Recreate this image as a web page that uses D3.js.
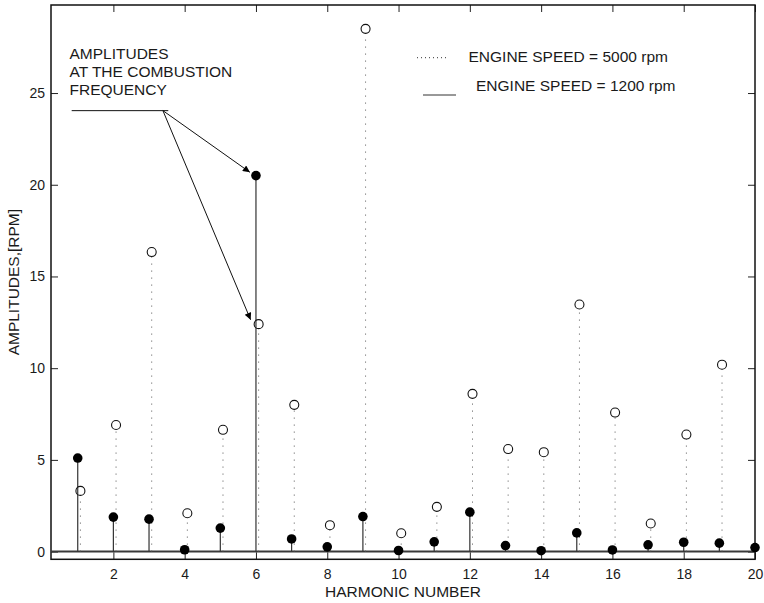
<!DOCTYPE html>
<html>
<head>
<meta charset="utf-8">
<script src="https://cdn.jsdelivr.net/npm/d3@7"></script>
<style>
  html, body { margin: 0; padding: 0; background: #fff; }
  svg { display: block; font-family: "Liberation Sans", Arial, sans-serif; }
</style>
</head>
<body>
<svg id="chart" width="764" height="603"></svg>
<script>
// ---- data ----
const harmonics = [1,2,3,4,5,6,7,8,9,10,11,12,13,14,15,16,17,18,19,20];
const speed1200 = [5.1,1.88,1.77,0.1,1.28,20.5,0.69,0.26,1.91,0.06,0.53,2.15,0.33,0.05,1.02,0.09,0.37,0.51,0.46,0.22];
const harmonics5000 = [1,2,3,4,5,6,7,8,9,10,11,12,13,14,15,16,17,18,19];
const speed5000 = [3.31,6.9,16.33,2.09,6.64,12.4,8.0,1.44,28.5,1.0,2.44,8.6,5.59,5.42,13.47,7.58,1.53,6.38,10.19];
const xTicks = [2,4,6,8,10,12,14,16,18,20];
const yTicks = [0,5,10,15,20,25];
const legendLabels = ["ENGINE SPEED = 5000 rpm", "ENGINE SPEED = 1200 rpm"];
const annotationLines = ["AMPLITUDES", "AT THE COMBUSTION", "FREQUENCY"];
const annotationBar = [[0.83, 24.04], [3.54, 24.04]];
const annotationApex = [3.39, 24.04];
const annotationTargets = [[5.83, 20.68], [5.85, 12.64]];
const xLabel = "HARMONIC NUMBER";
const yLabel = "AMPLITUDES,[RPM]";

// ---- layout ----
const L = 51, R = 755, T = 5, B = 559.3;
const svg = d3.select("#chart");
const x = d3.scaleLinear().domain([0.25, 20]).range([L, R]);
const y = d3.scaleLinear().domain([-0.42, 29.8]).range([B, T]);
const off5000 = 0.075;
const textColor = "#1a1a1a";

svg.append("defs").append("marker")
  .attr("id", "arrow").attr("viewBox", "0 0 10 10")
  .attr("refX", 10).attr("refY", 5)
  .attr("markerWidth", 10).attr("markerHeight", 7)
  .attr("markerUnits", "userSpaceOnUse")
  .attr("orient", "auto")
  .append("path").attr("d", "M0,0 L10,5 L0,10 Z").attr("fill", "#000");

// axes (inward ticks, mirrored)
const tickLen = 7;
const bottomAxis = d3.axisBottom(x).tickValues(xTicks).tickSizeInner(-tickLen).tickSizeOuter(0).tickPadding(10).tickFormat(d3.format("d"));
const topAxis = d3.axisTop(x).tickValues(xTicks).tickSizeInner(-tickLen).tickSizeOuter(0).tickFormat("");
const leftAxis = d3.axisLeft(y).tickValues(yTicks).tickSizeInner(-tickLen).tickSizeOuter(0).tickPadding(6).tickFormat(d3.format("d"));
const rightAxis = d3.axisRight(y).tickValues(yTicks).tickSizeInner(-tickLen).tickSizeOuter(0).tickFormat("");

function styleAxis(g) {
  g.select(".domain").remove();
  g.selectAll(".tick line").attr("stroke", "#222").attr("stroke-width", 1);
  g.selectAll(".tick text").attr("fill", textColor).style("font-size", "14px")
    .style("font-family", "'Liberation Sans', Arial, sans-serif");
}
svg.append("g").attr("transform", `translate(0,${B})`).call(bottomAxis).call(styleAxis);
svg.append("g").attr("transform", `translate(0,${T})`).call(topAxis).call(styleAxis);
svg.append("g").attr("transform", `translate(${L},0)`).call(leftAxis).call(styleAxis);
svg.append("g").attr("transform", `translate(${R},0)`).call(rightAxis).call(styleAxis);

// plot box
svg.append("rect").attr("x", L).attr("y", T).attr("width", R - L).attr("height", B - T)
  .attr("fill", "none").attr("stroke", "#111").attr("stroke-width", 1.5);

// zero baseline
svg.append("line").attr("x1", L).attr("x2", R).attr("y1", y(0)).attr("y2", y(0))
  .attr("stroke", "#3a3a3a").attr("stroke-width", 2);

// 5000 rpm dotted stems + open circles
const d5000 = harmonics5000.map((h, i) => ({h, v: speed5000[i]}));
svg.append("g").selectAll("line").data(d5000).join("line")
  .attr("x1", d => x(d.h + off5000)).attr("x2", d => x(d.h + off5000))
  .attr("y1", y(0)).attr("y2", d => y(d.v) + 4.5)
  .attr("stroke", "#555").attr("stroke-width", 1).attr("stroke-dasharray", "1,6");

// 1200 rpm solid stems
const d1200 = harmonics.map((h, i) => ({h, v: speed1200[i]}));
svg.append("g").selectAll("line").data(d1200).join("line")
  .attr("x1", d => x(d.h)).attr("x2", d => x(d.h))
  .attr("y1", y(0)).attr("y2", d => y(d.v))
  .attr("stroke", "#333").attr("stroke-width", 1.2);

svg.append("g").selectAll("circle").data(d5000).join("circle")
  .attr("cx", d => x(d.h + off5000)).attr("cy", d => y(d.v)).attr("r", 4.5)
  .attr("fill", "none").attr("stroke", "#111").attr("stroke-width", 1.1);

svg.append("g").selectAll("circle").data(d1200).join("circle")
  .attr("cx", d => x(d.h)).attr("cy", d => y(d.v)).attr("r", 4.8)
  .attr("fill", "#000");

// annotation
const ann = svg.append("g");
ann.append("text").attr("x", 69.5).attr("y", 59).attr("fill", textColor)
  .style("font-size", "15.5px")
  .selectAll("tspan").data(annotationLines).join("tspan")
  .attr("x", 69.5).attr("dy", (d, i) => i === 0 ? 0 : 17.9).text(d => d);
ann.append("line")
  .attr("x1", x(annotationBar[0][0])).attr("y1", y(annotationBar[0][1]))
  .attr("x2", x(annotationBar[1][0])).attr("y2", y(annotationBar[1][1]))
  .attr("stroke", "#111").attr("stroke-width", 1);
ann.selectAll("line.arr").data(annotationTargets).join("line").attr("class", "arr")
  .attr("x1", x(annotationApex[0])).attr("y1", y(annotationApex[1]))
  .attr("x2", d => x(d[0])).attr("y2", d => y(d[1]))
  .attr("stroke", "#111").attr("stroke-width", 1)
  .attr("marker-end", "url(#arrow)");

// legend
const leg = svg.append("g");
leg.append("line").attr("x1", 417).attr("x2", 446).attr("y1", 57.7).attr("y2", 57.7)
  .attr("stroke", "#333").attr("stroke-width", 1).attr("stroke-dasharray", "1,3");
leg.append("text").attr("x", 468.5).attr("y", 62).attr("fill", textColor)
  .style("font-size", "15.5px").text(legendLabels[0]);
leg.append("line").attr("x1", 423).attr("x2", 456).attr("y1", 95).attr("y2", 95)
  .attr("stroke", "#333").attr("stroke-width", 1);
leg.append("text").attr("x", 476).attr("y", 91).attr("fill", textColor)
  .style("font-size", "15.5px").text(legendLabels[1]);

// axis labels
svg.append("text").attr("x", (L + R) / 2).attr("y", 596.5).attr("text-anchor", "middle")
  .attr("fill", textColor).style("font-size", "15.5px").text(xLabel);
svg.append("text").attr("transform", `translate(19,${(T + B) / 2}) rotate(-90)`)
  .attr("text-anchor", "middle").attr("fill", textColor).style("font-size", "15.5px").text(yLabel);
</script>
</body>
</html>
